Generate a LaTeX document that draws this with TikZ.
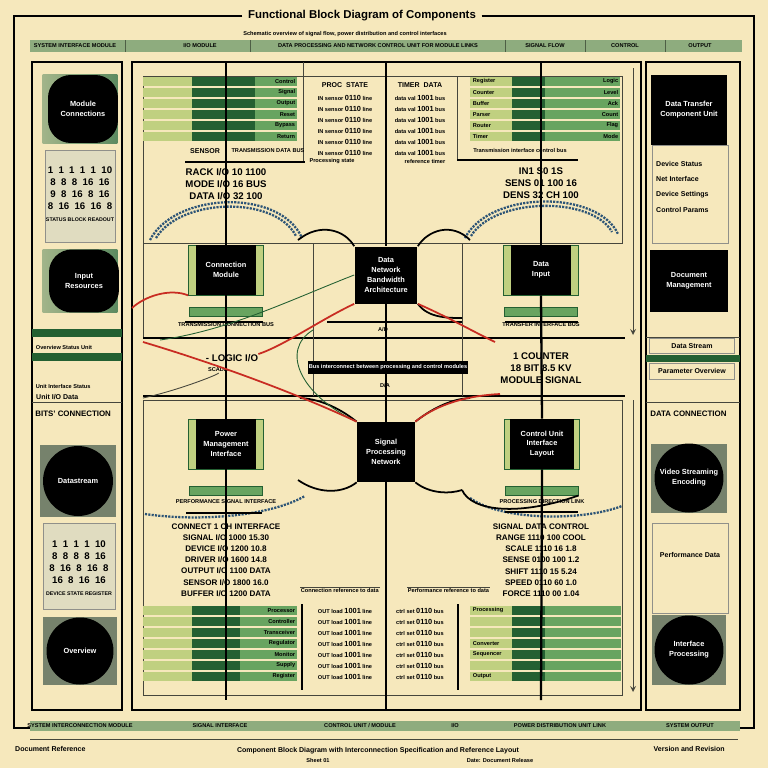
\documentclass[tikz,border=0pt]{standalone}
\usepackage{fontspec}
\setmainfont{Liberation Sans}
\usetikzlibrary{positioning}

\definecolor{paper}{RGB}{246,232,188}
\definecolor{barlight}{RGB}{192,208,128}
\definecolor{barmid}{RGB}{104,164,96}
\definecolor{bardark}{RGB}{36,96,50}
\definecolor{headbar}{RGB}{142,172,126}
\definecolor{sidegreen}{RGB}{92,138,96}
\definecolor{sidegrey}{RGB}{118,130,108}
\definecolor{panelgrey}{RGB}{224,220,192}
\definecolor{wirered}{RGB}{200,44,34}
\definecolor{arcblue}{RGB}{44,84,118}
\definecolor{thinline}{RGB}{70,70,60}

\begin{document}
\begin{tikzpicture}[
    x=0.02cm, y=-0.02cm,
    font=\fontsize{5}{6}\selectfont\bfseries,
    frame/.style={line width=1.6pt},
    rule/.style={line width=0.5pt, draw=thinline},
    bow/.style={line width=1pt},
    blk/.style={fill=black, text=white, align=center, inner sep=1pt, minimum width=1.2cm, minimum height=1cm, font=\fontsize{4.2}{5.6}\selectfont\bfseries},
    strip/.style={fill=barlight, draw=bardark, line width=0.4pt, minimum width=1.5cm, minimum height=1cm, inner sep=0pt},
    gbar/.style={fill=barmid, draw=bardark, line width=0.3pt, minimum width=1.45cm, minimum height=0.17cm, inner sep=0pt},
    tile/.style={minimum width=1.5cm, minimum height=1.38cm, inner sep=0pt},
    dshape/.style={fill=black, text=white, align=center, inner sep=0pt, rounded corners=13pt, font=\fontsize{4.2}{5.6}\selectfont\bfseries},
    disc/.style={circle, fill=black, text=white, align=center, inner sep=0pt, minimum size=1.36cm, font=\fontsize{4.2}{5.6}\selectfont\bfseries},
    panel/.style={fill=panelgrey, draw=thinline!60, line width=0.4pt, inner sep=0pt},
    lbl/.style={inner sep=0.5pt, font=\fontsize{4}{5}\selectfont\bfseries},
    tinylbl/.style={inner sep=0.3pt, font=\fontsize{3.2}{3.8}\selectfont\bfseries},
    stack/.style={align=center, inner sep=0pt, font=\fontsize{5.5}{6.7}\selectfont\bfseries},
    rows/.style={align=center, inner sep=0pt, font=\fontsize{4.6}{6.4}\selectfont\bfseries},
    wire/.style={draw=wirered, line width=1pt},
    arcdash/.style={draw=arcblue, line width=1.3pt, dash pattern=on 1.2pt off 0.7pt},
    >=stealth
]
    \path[use as bounding box, fill=paper] (0,0) rectangle (768,768);

    % Title and outer rule
    \node[font=\fontsize{6.5}{8}\selectfont\bfseries, fill=paper, inner xsep=3pt] (title) at (362,16) {Functional Block Diagram of Components};
    \draw[line width=0.8pt] (title.west) -- (14,16) -- (14,728) -- (30,728);
    \draw[line width=0.8pt] (title.east) -- (754,16) -- (754,728) -- (740,728);
    \node[tinylbl] (subtitle) at (345,34) {Schematic overview of signal flow, power distribution and control interfaces};

    % Header bar
    \node[fill=headbar, minimum width=14.26cm, minimum height=0.24cm, inner sep=0pt] (hdr) at (386,46) {};
    \foreach \x in {125,250,505,585,665} \draw[headbar!55!black, line width=0.3pt] (\x,40) -- (\x,52);
    \node[tinylbl] (h1) at (75,46) {SYSTEM INTERFACE MODULE};
    \node[tinylbl] (h2) at (200,46) {I/O MODULE};
    \node[tinylbl] (h3) at (378,46) {DATA PROCESSING AND NETWORK CONTROL UNIT FOR MODULE LINKS};
    \node[tinylbl] (h4) at (545,46) {SIGNAL FLOW};
    \node[tinylbl] (h5) at (625,46) {CONTROL};
    \node[tinylbl] (h6) at (700,46) {OUTPUT};

    % Frames
    \draw[frame] (32,62) rectangle (122,710);
    \draw[frame] (132,62) rectangle (641,710);
    \draw[frame] (646,62) rectangle (740,710);
    \draw[rule] (143,76) rectangle (622,243);
    \draw[rule] (143,243) -- (143,338);
    \draw[rule] (143,400) rectangle (622,695);
    \draw[rule, ->] (633,68) -- (633,335);
    \draw[rule, ->] (633,400) -- (633,692);
    \draw[bow] (143,338) -- (625,338);
    \draw[bow] (143,396) -- (625,396);
    \draw[rule] (303,62) -- (303,162);
    \draw[rule] (457,76) -- (457,160);
    \draw[rule] (313,243) -- (313,396);
    \draw[rule] (462,243) -- (462,396);

    % Bar tables
    \foreach \r in {0,...,5}{
        \fill[barlight] (143,{77+\r*11}) rectangle (192,{86+\r*11});
        \fill[bardark] (192,{77+\r*11}) rectangle (255,{86+\r*11});
        \fill[barmid] (255,{77+\r*11}) rectangle (297,{86+\r*11});
        \fill[barlight] (470,{77+\r*11}) rectangle (512,{86+\r*11});
        \fill[bardark] (512,{77+\r*11}) rectangle (545,{86+\r*11});
        \fill[barmid] (545,{77+\r*11}) rectangle (620,{86+\r*11});
    }
    \foreach \r in {0,...,6}{
        \fill[barlight] (143,{606+\r*11}) rectangle (192,{615+\r*11});
        \fill[bardark] (192,{606+\r*11}) rectangle (240,{615+\r*11});
        \fill[barmid] (240,{606+\r*11}) rectangle (297,{615+\r*11});
        \fill[barlight] (470,{606+\r*11}) rectangle (512,{615+\r*11});
        \fill[bardark] (512,{606+\r*11}) rectangle (545,{615+\r*11});
        \fill[barmid] (545,{606+\r*11}) rectangle (621,{615+\r*11});
    }
    \foreach \r/\t in {0/Control,1/Signal,2/Output,3/Reset,4/Bypass,5/Return}
        \node[tinylbl, anchor=east] (tlb\r) at (296,{81.5+\r*11}) {\t};
    \foreach \r/\t in {0/Register,1/Counter,2/Buffer,3/Parser,4/Router,5/Timer}
        \node[tinylbl, anchor=west] (trl\r) at (472,{81.5+\r*11}) {\t};
    \foreach \r/\t in {0/Logic,1/Level,2/Ack,3/Count,4/Flag,5/Mode}
        \node[tinylbl, anchor=east] (trr\r) at (619,{81.5+\r*11}) {\t};
    \foreach \r/\t in {0/Processor,1/Controller,2/Transceiver,3/Regulator,4/Monitor,5/Supply,6/Register}
        \node[tinylbl, anchor=east] (blb\r) at (296,{610.5+\r*11}) {\t};
    \foreach \r/\t in {0/Processing,3/Converter,4/Sequencer,6/Output}
        \node[tinylbl, anchor=west] (brl\r) at (472,{610.5+\r*11}) {\t};
    \node[lbl] (sensor) at (205,151) {SENSOR};
    \node[tinylbl] (sensorbus) at (268,151) {TRANSMISSION DATA BUS};
    \draw[bow] (185,162) -- (305,162);
    \node[tinylbl] (xfer) at (520,150) {Transmission interface control bus};
    \draw[bow] (457,160) -- (578,160);

    % Text tables
    \node[lbl] (procH) at (345,85) {PROC\ \ STATE};
    \node[lbl] (timeH) at (420,85) {TIMER\ \ DATA};
    \foreach \r in {0,...,5}{
        \node[tinylbl] (pa\r) at (345,{98+\r*11}) {IN\ sensor\ {\fontsize{4.2}{5}\selectfont 0110}\ line};
        \node[tinylbl] (pb\r) at (420,{98+\r*11}) {data\ val\ {\fontsize{4.2}{5}\selectfont 1001}\ bus};
    }
    \node[tinylbl] (procF) at (332,161) {Processing state};
    \node[tinylbl] (timeF) at (425,161) {reference timer};
    \foreach \r in {0,...,6}{
        \node[tinylbl] (qa\r) at (345,{611+\r*11}) {OUT\ load\ {\fontsize{4.2}{5}\selectfont 1001}\ line};
        \node[tinylbl] (qb\r) at (420,{611+\r*11}) {ctrl\ set\ {\fontsize{4.2}{5}\selectfont 0110}\ bus};
    }
    \draw[bow] (302,604) -- (302,690);
    \draw[bow] (458,604) -- (458,690);

    % Stacks of figures
    \node[stack] (stkTL) at (226,184) {RACK I/O 10 1100\\MODE I/O 16 BUS\\DATA I/O 32 100};
    \node[stack] (stkTR) at (541,183) {IN1 S0 1S\\SENS 01 100 16\\DENS 32 CH 100};
    \node[stack] (stkMR) at (541,368) {1 COUNTER\\18 BIT 8.5 KV\\MODULE SIGNAL};
    \node[rows] (stkBL) at (226,560) {CONNECT 1 CH INTERFACE\\SIGNAL I/O 1000 15.30\\DEVICE I/O 1200 10.8\\DRIVER I/O 1600 14.8\\OUTPUT I/O 1100 DATA\\SENSOR I/O 1800 16.0\\BUFFER I/O 1200 DATA};
    \node[rows] (stkBR) at (541,560) {SIGNAL DATA CONTROL\\RANGE 1110 100 COOL\\SCALE 1110 16 1.8\\SENSE 0100 100 1.2\\SHIFT 1110 15 5.24\\SPEED 0110 60 1.0\\FORCE 1110 00 1.04};
    \node[tinylbl, anchor=west] (lnote) at (300,590) {Connection reference to data};
    \draw[rule] (lnote.north west) -- (lnote.north east);
    \node[tinylbl, anchor=east] (rnote) at (490,590) {Performance reference to data};
    \draw[rule] (rnote.north west) -- (rnote.north east);

    % Dashed arcs
    \draw[arcdash] (150,240) .. controls (175,192) and (280,188) .. (302,238);
    \draw[arcdash] (156,238) .. controls (180,198) and (275,195) .. (296,236);
    \draw[arcdash] (465,238) .. controls (490,190) and (598,190) .. (618,234);
    \draw[arcdash] (471,236) .. controls (495,197) and (592,196) .. (612,232);
    \draw[arcdash] (145,514) .. controls (200,522) and (270,516) .. (305,496);
    \draw[arcdash] (470,498) .. controls (500,520) and (580,522) .. (622,506);

    % Blocks
    \node[strip] (tlS) at (226,270) {};
    \node[blk] (tl) at (226,270) {Connection\\Module};
    \node[gbar] (tlG) at (226,312) {};
    \node[tinylbl, below=3pt of tlG] (tlT) {TRANSMISSION CONNECTION BUS};
    \node[blk, minimum width=1.26cm, minimum height=1.14cm] (cu) at (386,275) {Data\\Network\\Bandwidth\\Architecture};
    \node[strip] (trS) at (541,270) {};
    \node[blk] (tr) at (541,270) {Data\\Input};
    \node[gbar] (trG) at (541,312) {};
    \node[tinylbl, below=3pt of trG] (trT) {TRANSFER INTERFACE BUS};
    \node[strip] (blS) at (226,444) {};
    \node[blk] (bl) at (226,444) {Power\\Management\\Interface};
    \node[gbar] (blG) at (226,491) {};
    \node[tinylbl, below=2pt of blG] (blT) {PERFORMANCE SIGNAL INTERFACE};
    \node[blk, minimum width=1.16cm, minimum height=1.2cm] (cl) at (386,452) {Signal\\Processing\\Network};
    \node[strip] (brS) at (542,444) {};
    \node[blk, minimum width=1.3cm] (br) at (542,444) {Control Unit\\Interface\\Layout};
    \node[gbar] (brG) at (542,491) {};
    \node[tinylbl, below=2pt of brG] (brT) {PROCESSING DIRECTION LINK};
    \draw[bow] (186,513) -- (262,513);
    \draw[bow] (505,512) -- (578,512);
    \draw[bow] (185,322) -- (263,322);
    \draw[bow] (327,322) -- (462,322);
    \draw[bow] (505,322) -- (578,322);

    % Small labels
    \node[tinylbl] (adc) at (383,330) {A/D};
    \node[tinylbl] (dac) at (385,386) {D/A};
    \node[stack] (logic) at (232,358) {- LOGIC I/O};
    \node[tinylbl] (scada) at (218,370) {SCADA};

    % Column lines
    \coordinate (lTop) at (226,62);
    \coordinate (lBot) at (226,700);
    \coordinate (cTop) at (386,62);
    \coordinate (cBot) at (386,710);
    \coordinate (rTop) at (541,62);
    \coordinate (rBot) at (541,700);
    \draw[line width=1.3pt] (lTop) -- (tl.north);
    \draw[line width=1.3pt] (tl.south) -- (bl.north);
    \draw[line width=1.3pt] (bl.south) -- (lBot);
    \draw[line width=1.3pt] (cTop) -- (cu.north);
    \draw[line width=1.3pt] (cu.south) -- (cl.north);
    \draw[line width=1.3pt] (cl.south) -- (cBot);
    \draw[line width=1.3pt] (rTop) -- (tr.north);
    \draw[line width=1.3pt] (tr.south) -- (br.north);
    \draw[line width=1.3pt] (br.south) -- (rBot);

    % Bus bar
    \node[fill=black, text=white, tinylbl, minimum width=2.96cm, minimum height=0.26cm] (busbar) at (388,367) {Bus interconnect between processing and control modules};

    % Bow curves
    \draw[bow] (298,240) .. controls (320,222) and (345,230) .. (cu.north west);
    \draw[bow] (cu.north east) .. controls (428,230) and (452,222) .. (470,240);
    \draw[bow] (cu.south east) .. controls (428,318) and (448,318) .. (462,318);
    \draw[bow] (cl.north west) .. controls (342,410) and (322,399) .. (300,398);
    \draw[bow] (cl.north east) .. controls (430,410) and (450,399) .. (470,398);
    \draw[bow] (cl.south west) .. controls (342,494) and (318,494) .. (298,480);
    \draw[bow] (cl.south east) .. controls (430,494) and (450,494) .. (462,490);
    \draw[bow] (462,490) .. controls (472,512) and (520,516) .. (brG.south east);
    \draw[rule] (143,398) .. controls (180,390) and (225,372) .. (scada.south);
    \draw[rule, draw=bardark] (160,340) .. controls (230,330) and (290,300) .. (cu.west);
    \draw[rule, draw=bardark] (313,330) .. controls (280,350) and (300,395) .. (cl.north west);

    % Red wires
    \coordinate (wA) at (132,308);
    \coordinate (wC) at (143,342);
    \coordinate (wD) at (495,342);
    \coordinate (wE) at (500,394);
    \draw[wire] (wA) .. controls (145,296) and (170,288) .. (tlS.south west);
    \draw[wire] (cu.south west) .. controls (320,320) and (285,345) .. (logic.north east);
    \draw[wire] (wC) .. controls (220,365) and (300,395) .. (cl.north west);
    \draw[wire] (cu.south east) .. controls (450,318) and (470,330) .. (wD);
    \draw[wire] (cl.north east) .. controls (432,408) and (460,396) .. (wE);

    % Left column
    \node[tile, left color=sidegreen!55!paper, right color=sidegreen] (mcT) at (80,109) {};
    \node[dshape, minimum width=1.4cm, minimum height=1.36cm] (mc) at (83,109) {Module\\Connections};
    \node[panel, minimum width=1.4cm, minimum height=1.84cm] (g1P) at (80,196) {};
    \node[align=center, inner sep=0pt, font=\fontsize{5.5}{6.8}\selectfont\bfseries] (g1) at (80,194) {1~~1~~1~~1~~1~~10\\8~~8~~8~~16~~16\\9~~8~~16~~8~~16\\8~~16~~16~~16~~8\\{\fontsize{3}{4}\selectfont STATUS BLOCK READOUT}};
    \node[tile, minimum height=1.26cm, left color=sidegreen!55!paper, right color=sidegreen] (irT) at (80,281) {};
    \node[dshape, minimum width=1.4cm, minimum height=1.26cm] (ir) at (84,281) {Input\\Resources};
    \fill[bardark] (32,329) rectangle (122,337);
    \node[tinylbl, anchor=west] (ovs) at (35,347) {Overview Status Unit};
    \fill[bardark] (32,353) rectangle (122,361);
    \node[tinylbl, anchor=west] (ui) at (35,386) {Unit Interface Status};
    \node[lbl, anchor=west] (uio) at (35,397) {Unit I/O Data};
    \draw[rule] (32,402) -- (122,402);
    \node[font=\fontsize{4.5}{5}\selectfont\bfseries, anchor=west, inner sep=0pt] (bits) at (35,414) {BITS' CONNECTION};
    \node[tile, minimum width=1.54cm, minimum height=1.44cm, fill=sidegrey] (dsT) at (78,481) {};
    \node[disc, minimum size=1.4cm] (ds) at (78,481) {Datastream};
    \node[panel, minimum width=1.44cm, minimum height=1.72cm] (g2P) at (79,566) {};
    \node[align=center, inner sep=0pt, font=\fontsize{5.5}{6.8}\selectfont\bfseries] (g2) at (79,568) {1~~1~~1~~1~~10\\8~~8~~8~~8~~16\\8~~16~~8~~16~~8\\16~~8~~16~~16\\{\fontsize{3}{4}\selectfont DEVICE STATE REGISTER}};
    \node[tile, minimum width=1.48cm, minimum height=1.36cm, fill=sidegrey] (ovT) at (80,651) {};
    \node[disc, minimum size=1.34cm] (ov) at (80,651) {Overview};

    % Right column
    \node[fill=black, minimum width=1.54cm, minimum height=1.42cm, text=white, align=center, font=\fontsize{4.2}{5.6}\selectfont\bfseries] (dt) at (689,110) {Data Transfer\\Component Unit};
    \node[draw=thinline!60, line width=0.4pt, minimum width=1.52cm, minimum height=1.96cm] (devP) at (690,194) {};
    \node[lbl, anchor=west] (dv1) at (655,164) {Device Status};
    \node[lbl, anchor=west] (dv2) at (655,179) {Net Interface};
    \node[lbl, anchor=west] (dv3) at (655,195) {Device Settings};
    \node[lbl, anchor=west] (dv4) at (655,210) {Control Params};
    \node[fill=black, minimum width=1.56cm, minimum height=1.24cm, text=white, align=center, font=\fontsize{4.2}{5.6}\selectfont\bfseries] (dm) at (689,281) {Document\\Management};
    \draw[rule] (646,337) -- (740,337);
    \node[lbl, draw=thinline!60, minimum width=1.7cm, minimum height=0.3cm] (dstr) at (692,346) {Data Stream};
    \fill[bardark] (646,355) rectangle (740,362);
    \node[lbl, draw=thinline!60, minimum width=1.7cm, minimum height=0.32cm] (par) at (692,371) {Parameter Overview};
    \draw[rule] (646,402) -- (740,402);
    \node[font=\fontsize{4.5}{5}\selectfont\bfseries, anchor=west, inner sep=0pt] (dcon) at (650,414) {DATA CONNECTION};
    \node[tile, minimum width=1.54cm, minimum height=1.38cm, fill=sidegrey] (vsT) at (689,478) {};
    \node[disc, minimum size=1.38cm] (vs) at (689,478) {Video Streaming\\Encoding};
    \node[draw=thinline!60, line width=0.4pt, minimum width=1.52cm, minimum height=1.8cm] (perfP) at (690,568) {};
    \node[lbl] (perf) at (690,555) {Performance Data};
    \node[tile, minimum width=1.5cm, minimum height=1.4cm, fill=sidegrey] (ipT) at (689,650) {};
    \node[disc, minimum size=1.38cm] (ip) at (689,650) {Interface\\Processing};

    % Footer
    \node[fill=headbar, minimum width=14.2cm, minimum height=0.19cm, inner sep=0pt] (ftr) at (385,726) {};
    \node[tinylbl] (f1) at (80,726) {SYSTEM INTERCONNECTION MODULE};
    \node[tinylbl] (f2) at (220,726) {SIGNAL INTERFACE};
    \node[tinylbl] (f3) at (360,726) {CONTROL UNIT / MODULE};
    \node[tinylbl] (f4) at (455,726) {I/O};
    \node[tinylbl] (f5) at (560,726) {POWER DISTRIBUTION UNIT LINK};
    \node[tinylbl] (f6) at (690,726) {SYSTEM OUTPUT};
    \draw[rule] (30,739) -- (738,739);
    \node[lbl, anchor=west] (docref) at (14,749) {Document Reference};
    \node[lbl] (caption) at (378,751) {Component Block Diagram with Interconnection Specification and Reference Layout};
    \node[lbl, anchor=east] (version) at (726,749) {Version and Revision};
    \node[tinylbl] (sheet) at (318,760) {Sheet 01};
    \node[tinylbl] (date) at (500,760) {Date: Document Release};
\end{tikzpicture}
\end{document}
